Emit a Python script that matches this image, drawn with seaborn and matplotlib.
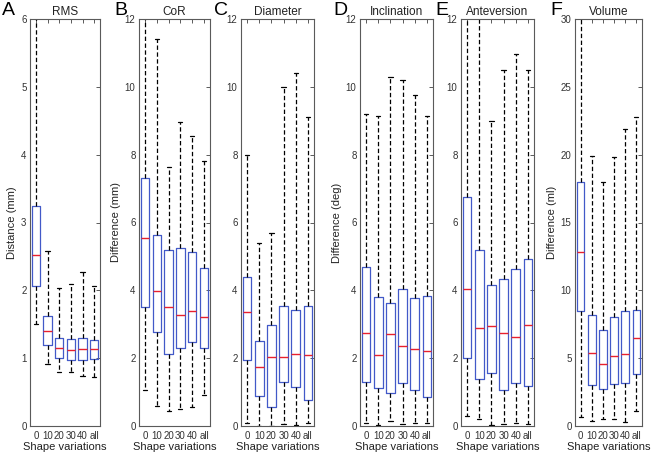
import numpy as np
import pandas as pd
import matplotlib
matplotlib.use("Agg")
import matplotlib.pyplot as plt
import seaborn as sns

sns.set_style("white")
plt.rcParams["font.family"] = ["Liberation Sans", "DejaVu Sans"]

groups = ["0", "10", "20", "30", "40", "all"]

# five-number summaries (low whisker, q1, median, q3, high whisker)
rms_lo = [1.50, 0.92, 0.80, 0.80, 0.73, 0.72]
rms_q1 = [2.07, 1.20, 1.00, 0.98, 0.98, 0.99]
rms_med = [2.52, 1.40, 1.15, 1.12, 1.14, 1.13]
rms_q3 = [3.25, 1.62, 1.30, 1.28, 1.30, 1.27]
rms_hi = [6.50, 2.58, 2.03, 2.10, 2.27, 2.07]

cor_lo = [1.05, 0.60, 0.45, 0.50, 0.55, 0.92]
cor_q1 = [3.50, 2.78, 2.12, 2.30, 2.48, 2.30]
cor_med = [5.55, 3.97, 3.52, 3.28, 3.38, 3.22]
cor_q3 = [7.30, 5.62, 5.20, 5.25, 5.12, 4.67]
cor_hi = [13.0, 11.40, 7.65, 8.97, 8.55, 7.80]

dia_lo = [0.10, 0.00, 0.00, 0.05, 0.02, 0.10]
dia_q1 = [1.95, 0.88, 0.57, 1.30, 1.15, 0.77]
dia_med = [3.35, 1.73, 2.03, 2.03, 2.12, 2.08]
dia_q3 = [4.38, 2.50, 2.97, 3.55, 3.43, 3.55]
dia_hi = [8.00, 5.40, 5.68, 10.00, 10.40, 9.12]

inc_lo = [0.10, 0.02, 0.15, 0.07, 0.08, 0.10]
inc_q1 = [1.30, 1.12, 0.98, 1.27, 1.05, 0.85]
inc_med = [2.75, 2.10, 2.70, 2.35, 2.28, 2.20]
inc_q3 = [4.68, 3.80, 3.62, 4.03, 3.77, 3.82]
inc_hi = [9.20, 9.15, 10.30, 10.20, 9.75, 9.15]

ant_lo = [0.30, 0.20, 0.03, 0.05, 0.10, 0.05]
ant_q1 = [2.00, 1.38, 1.55, 1.05, 1.28, 1.18]
ant_med = [4.03, 2.90, 2.95, 2.75, 2.62, 2.97]
ant_q3 = [6.75, 5.18, 4.15, 4.33, 4.63, 4.92]
ant_hi = [13.0, 13.0, 9.00, 10.50, 10.97, 10.50]

vol_lo = [0.70, 0.40, 0.50, 0.50, 0.30, 1.10]
vol_q1 = [8.50, 3.00, 2.70, 3.10, 3.20, 3.80]
vol_med = [12.80, 5.40, 4.60, 5.15, 5.30, 6.45]
vol_q3 = [18.00, 8.20, 7.10, 8.05, 8.45, 8.55]
vol_hi = [33.0, 19.90, 18.00, 19.85, 21.90, 22.80]

panels = [
    ("A", "RMS", "Distance (mm)", 6, np.arange(0, 7, 1), 30, 70, 2,
     (rms_lo, rms_q1, rms_med, rms_q3, rms_hi)),
    ("B", "CoR", "Difference (mm)", 12, np.arange(0, 13, 2), 139, 71, 114,
     (cor_lo, cor_q1, cor_med, cor_q3, cor_hi)),
    ("C", "Diameter", "", 12, np.arange(0, 13, 2), 241, 73, 214,
     (dia_lo, dia_q1, dia_med, dia_q3, dia_hi)),
    ("D", "Inclination", "Difference (deg)", 12, np.arange(0, 13, 2), 360, 73, 333,
     (inc_lo, inc_q1, inc_med, inc_q3, inc_hi)),
    ("E", "Anteversion", "", 12, np.arange(0, 13, 2), 461, 73, 435,
     (ant_lo, ant_q1, ant_med, ant_q3, ant_hi)),
    ("F", "Volume", "Difference (ml)", 30, np.arange(0, 31, 5), 575, 67, 550,
     (vol_lo, vol_q1, vol_med, vol_q3, vol_hi)),
]

W, H = 652, 453
BOX_BLUE = "#4259c8"
MED_RED = "#e8202e"
AX_GRAY = "#5a5a5a"

fig = plt.figure(figsize=(W / 100, H / 100), dpi=100)

for letter, title, ylabel, ymax, yticks, left, width, letter_x, stats in panels:
    ax = fig.add_axes([left / W, 27 / H, width / W, 407 / H])
    # each group gets exactly its five summary values, so quartiles/extremes match
    vals = np.column_stack(stats).ravel()
    df = pd.DataFrame({"group": np.repeat(groups, 5), "value": vals})
    sns.boxplot(data=df, x="group", y="value", order=groups, whis=(0, 100),
                width=0.7, fill=False, linewidth=0.9, showfliers=False,
                boxprops=dict(color=BOX_BLUE),
                medianprops=dict(color=MED_RED, linewidth=1.0),
                whiskerprops=dict(color="black", linestyle=(0, (3.5, 2))),
                capprops=dict(color="black"),
                ax=ax)
    ax.set_xlim(-0.5, 5.5)
    ax.set_ylim(0, ymax)
    ax.set_yticks(yticks)
    ax.tick_params(direction="in", top=True, right=True, length=3, width=0.7,
                   labelsize=7, colors=AX_GRAY, labelcolor="#333333", pad=2.5)
    ax.tick_params(axis="x", pad=3.5)
    for sp in ax.spines.values():
        sp.set_color(AX_GRAY)
        sp.set_linewidth(0.8)
    ax.set_xlabel("Shape variations", fontsize=8, color="#222222", labelpad=0.5)
    ax.set_ylabel(ylabel, fontsize=8, color="#222222", labelpad=3)
    ax.set_title(title, fontsize=8.5, color="#222222", pad=3)
    fig.text(letter_x / W, 1 - 2 / H, letter, fontsize=14, va="top",
             ha="left", color="black")

fig.savefig("out.png", dpi=100)
